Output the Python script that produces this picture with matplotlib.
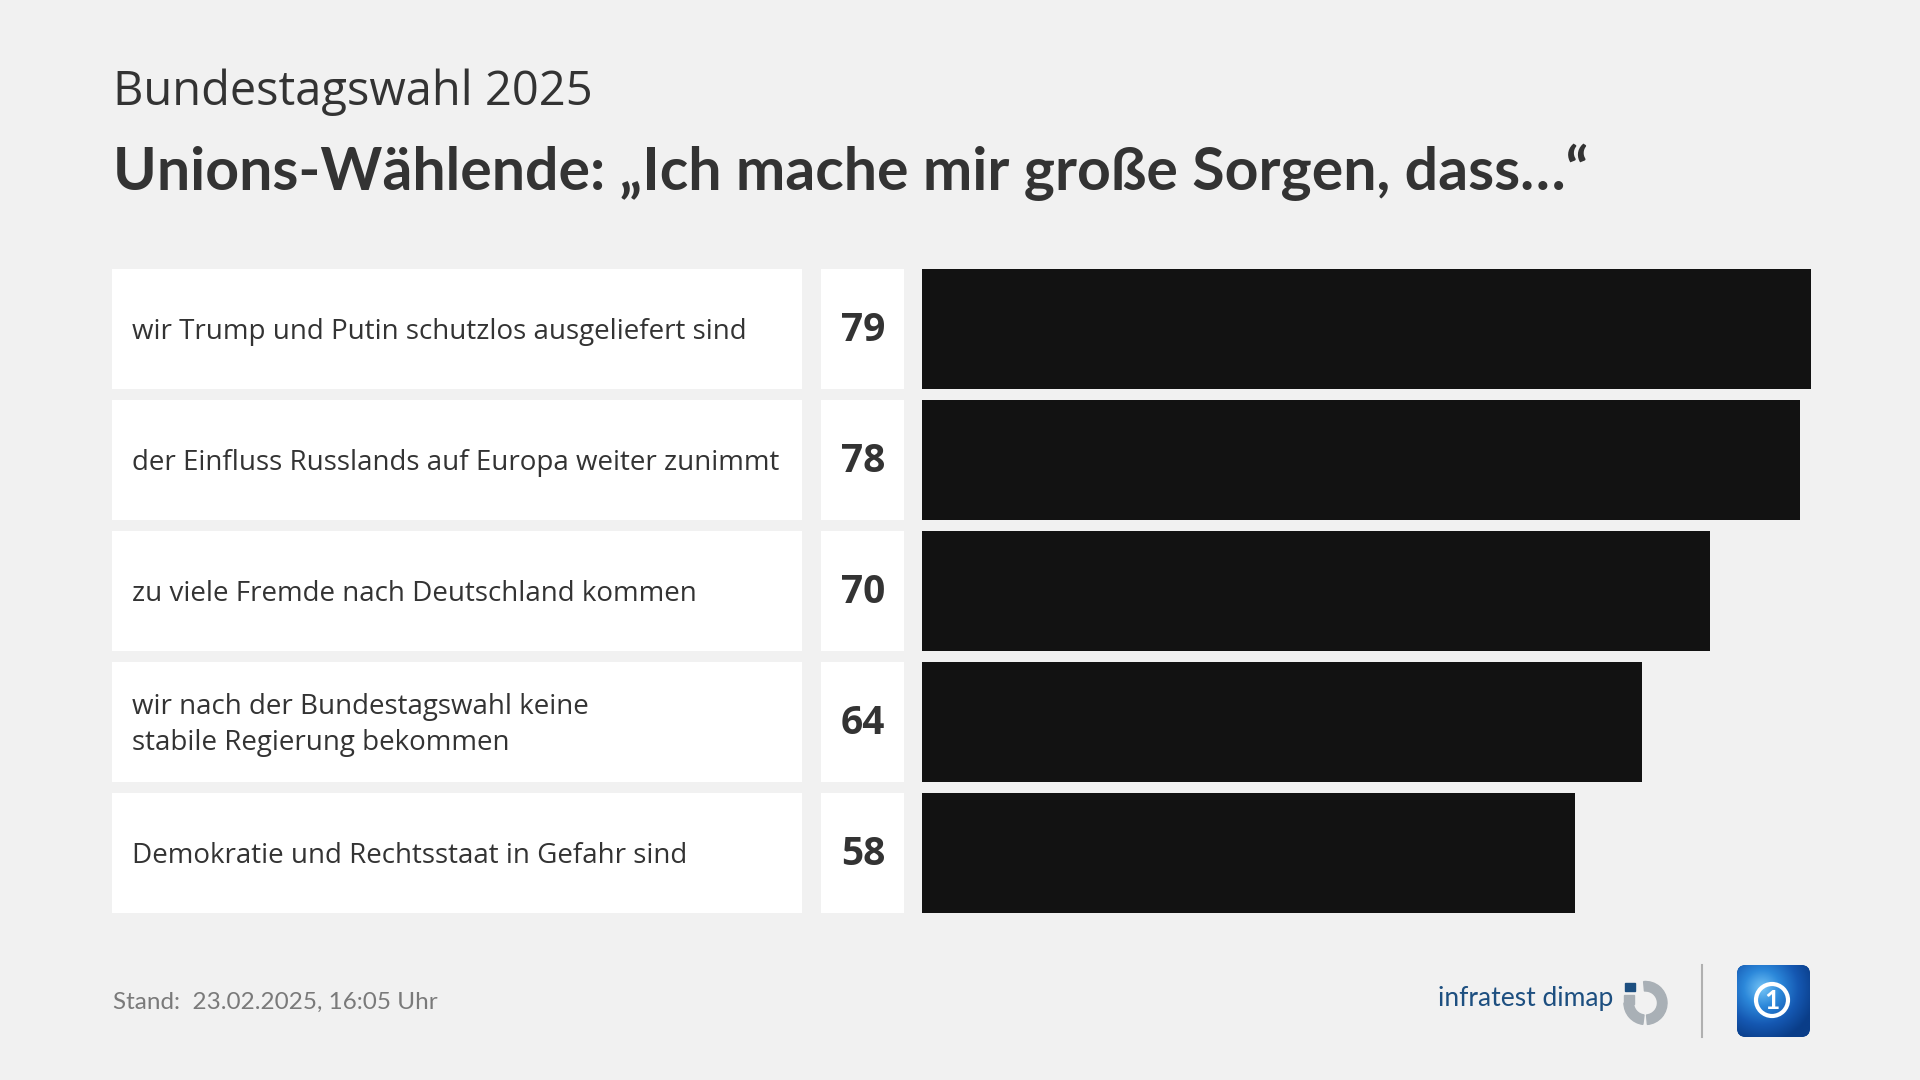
import numpy as np
import matplotlib.pyplot as plt
from matplotlib.colors import LinearSegmentedColormap
from matplotlib.patches import Rectangle, FancyBboxPatch, Wedge, Circle

plt.rcParams["font.family"] = ["Lato", "DejaVu Sans"]
SANS = ["Open Sans", "DejaVu Sans"]

# chart data
labels = [
    "wir Trump und Putin schutzlos ausgeliefert sind",
    "der Einfluss Russlands auf Europa weiter zunimmt",
    "zu viele Fremde nach Deutschland kommen",
    "wir nach der Bundestagswahl keine\nstabile Regierung bekommen",
    "Demokratie und Rechtsstaat in Gefahr sind",
]
values = [79, 78, 70, 64, 58]

subtitle = "Bundestagswahl 2025"
title = "Unions-Wählende: \u201eIch mache mir große Sorgen, dass\u2026\u201c"
footer = "Stand:  23.02.2025, 16:05 Uhr"

BG = "#f1f1f1"
DARK = "#333333"
BAR = "#121212"

W, H = 1920, 1080
fig = plt.figure(figsize=(19.2, 10.8), dpi=100, facecolor=BG)

# background axes in pixel coordinates for texts and logos
bg = fig.add_axes([0, 0, 1, 1], zorder=0)
bg.set_xlim(0, W)
bg.set_ylim(H, 0)
bg.axis("off")

bg.text(113, 105, subtitle, fontsize=33.8, color=DARK, va="baseline", ha="left",
        family=SANS)
bg.text(113, 190, title, fontsize=42.5, fontweight="bold", color=DARK,
        va="baseline", ha="left")
bg.text(113, 1009, footer, fontsize=17.5, color="#7a7a7a", va="baseline", ha="left")

# rows geometry (pixels)
row_top = 263.45
pitch = 131.1
n = len(values)
ax_top = 1 - row_top / H
ax_h = n * pitch / H
bar_h = 120 / pitch


def px_axes(x0, x1):
    return fig.add_axes([x0 / W, ax_top - ax_h, (x1 - x0) / W, ax_h], zorder=1)


# label + value boxes
box = px_axes(112, 904)
box.set_xlim(0, 792)
box.set_ylim(n - 0.5, -0.5)
box.axis("off")
ypos = np.arange(n)
box.barh(ypos, [690] * n, left=0, height=bar_h, color="white")
box.barh(ypos, [83.3] * n, left=708.7, height=bar_h, color="white")
for i, (lab, v) in enumerate(zip(labels, values)):
    box.text(20, i + 0.02, lab, fontsize=20, color=DARK, va="center", ha="left",
             linespacing=1.42, family=SANS)
    box.text(751, i + 0.01, str(v), fontsize=28, fontweight="bold", color=DARK,
             va="center", ha="center", family=SANS)

# bars
ax = px_axes(922, 922 + 80 * 11.255)
ax.set_xlim(0, 80)
ax.set_ylim(n - 0.5, -0.5)
ax.axis("off")
ax.barh(ypos, values, height=bar_h, color=BAR)

# infratest dimap logo
bg.text(1438, 1006, "infratest dimap", fontsize=19, color="#1d4f80",
        va="baseline", ha="left")
grey = "#a9b0b6"
bg.add_patch(Rectangle((1625, 983), 9.5, 8, color="#1d4f80"))
bg.add_patch(Rectangle((1624, 995), 9.5, 9, color=grey))
bg.add_patch(Wedge((1645.5, 1003), 21.5, -95, 85, width=9.5, color=grey))
bg.add_patch(Wedge((1645.5, 1003), 21.5, 97, 180, width=9.5, color=grey))

# separator
bg.plot([1702, 1702], [965, 1037], color="#b0b0b0", lw=1.5)

# tagesschau logo
logo = FancyBboxPatch((1737, 965), 73, 72,
                      boxstyle="round,pad=0,rounding_size=9",
                      facecolor="#0d4fa0", edgecolor="none")
bg.add_patch(logo)
gx, gy = np.meshgrid(np.linspace(1737, 1810, 80), np.linspace(965, 1037, 80))
dist = np.hypot(gx - 1762, gy - 988) / 55
cmap = LinearSegmentedColormap.from_list("ts", ["#74c4f6", "#2c88da", "#1558b2", "#0a3d88"])
im = bg.imshow(dist, extent=(1737, 1810, 1037, 965), cmap=cmap,
               vmin=0, vmax=1, zorder=2, aspect="auto", origin="upper")
im.set_clip_path(logo)
bg.add_patch(Circle((1772, 1000), 16, facecolor="none", edgecolor="white",
                    lw=3, zorder=4))
bg.text(1772, 1001, "1", fontsize=19, fontweight="bold", color="white",
        ha="center", va="center", zorder=5)
bg.set_xlim(0, W)
bg.set_ylim(H, 0)

fig.savefig("out.png", dpi=100, facecolor=BG)
